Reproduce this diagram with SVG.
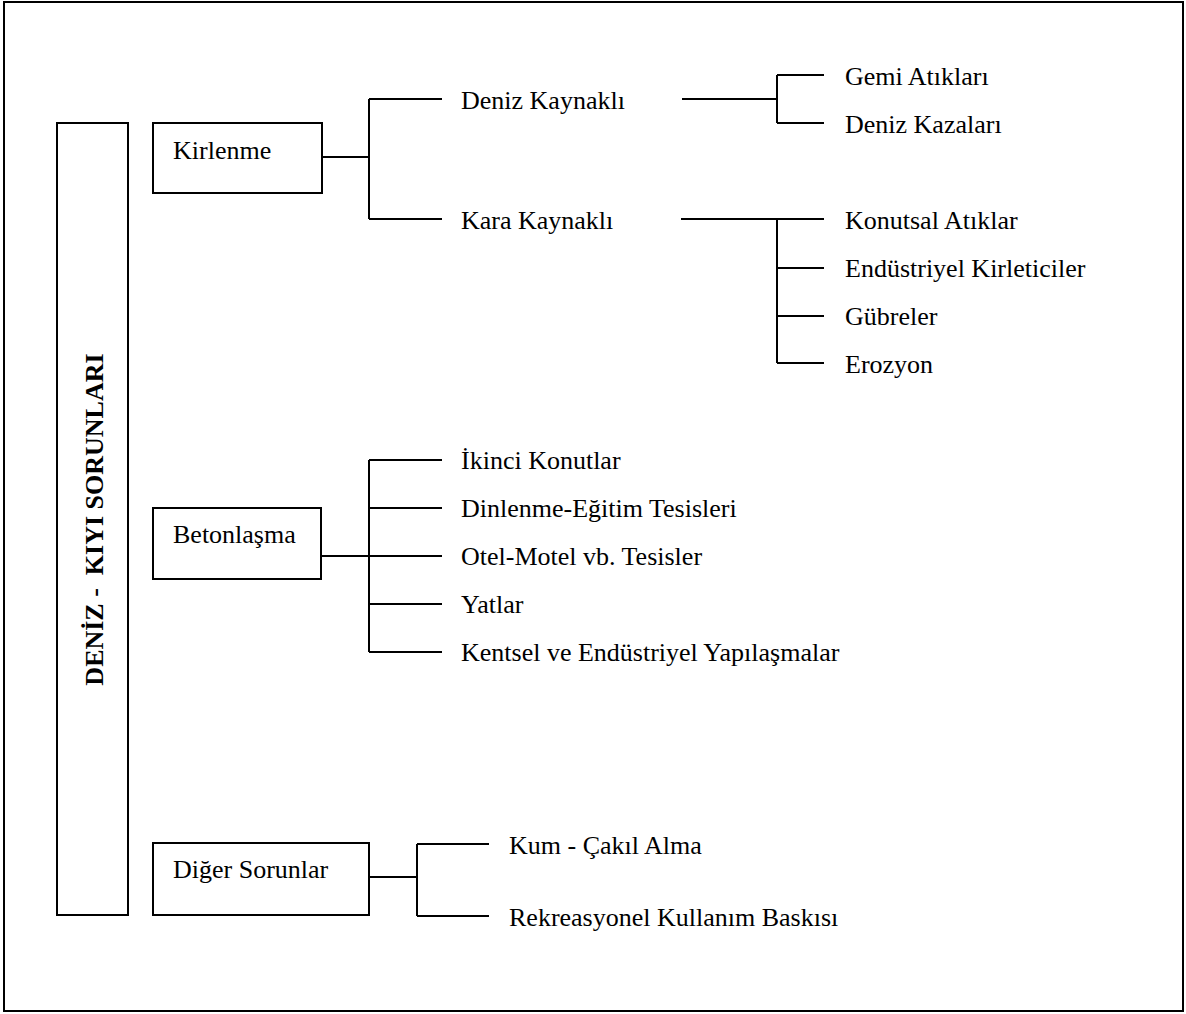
<svg xmlns="http://www.w3.org/2000/svg" width="1186" height="1014" viewBox="0 0 1186 1014">
<style>
.box{fill:#fff;stroke:#000;stroke-width:2}
.ln{fill:none;stroke:#000;stroke-width:2}
text{font-family:"Liberation Serif","Times New Roman",serif;font-size:26px;fill:#000}
.title{font-weight:bold;text-anchor:middle;white-space:pre}
</style>
<rect x="0" y="0" width="1186" height="1014" fill="#fff"/>
<rect x="4" y="2" width="1179" height="1009" class="box"/>
<g id="root">
<rect x="57" y="123" width="71" height="792" class="box"/>
<text class="title" xml:space="preserve" transform="translate(103,519.5) rotate(-90)">DENİZ -  KIYI SORUNLARI</text>
</g>
<g id="kirlenme">
<rect x="153" y="123" width="169" height="70" class="box"/>
<text x="173" y="159">Kirlenme</text>
</g>
<g id="betonlasma">
<rect x="153" y="508" width="168" height="71" class="box"/>
<text x="173" y="543">Betonlaşma</text>
</g>
<g id="diger">
<rect x="153" y="843" width="216" height="72" class="box"/>
<text x="173" y="878">Diğer Sorunlar</text>
</g>
<g id="deniz-kaynakli"><text x="461" y="109">Deniz Kaynaklı</text></g>
<g id="kara-kaynakli"><text x="461" y="229">Kara Kaynaklı</text></g>
<g id="gemi"><text x="845" y="85">Gemi Atıkları</text></g>
<g id="deniz-kazalari"><text x="845" y="133">Deniz Kazaları</text></g>
<g id="konutsal"><text x="845" y="229">Konutsal Atıklar</text></g>
<g id="endustriyel"><text x="845" y="277">Endüstriyel Kirleticiler</text></g>
<g id="gubreler"><text x="845" y="325">Gübreler</text></g>
<g id="erozyon"><text x="845" y="373">Erozyon</text></g>
<g id="ikinci"><text x="461" y="469">İkinci Konutlar</text></g>
<g id="dinlenme"><text x="461" y="517">Dinlenme-Eğitim Tesisleri</text></g>
<g id="otel"><text x="461" y="565">Otel-Motel vb. Tesisler</text></g>
<g id="yatlar"><text x="461" y="613">Yatlar</text></g>
<g id="kentsel"><text x="461" y="661">Kentsel ve Endüstriyel Yapılaşmalar</text></g>
<g id="kum"><text x="509" y="854">Kum - Çakıl Alma</text></g>
<g id="rekreasyonel"><text x="509" y="926">Rekreasyonel Kullanım Baskısı</text></g>
<g id="connectors">
<path class="ln" d="M322 157H369M369 99V219M369 99H442M369 219H442"/>
<path class="ln" d="M682 99H777M777 75V123M777 75H824M777 123H824"/>
<path class="ln" d="M681 219H824M777 219V363M777 268H824M777 316H824M777 363H824"/>
<path class="ln" d="M321 556H369M369 460V652M369 460H442M369 508H442M369 556H442M369 604H442M369 652H442"/>
<path class="ln" d="M369 877H417M417 844V916M417 844H489M417 916H489"/>
</g>
</svg>
